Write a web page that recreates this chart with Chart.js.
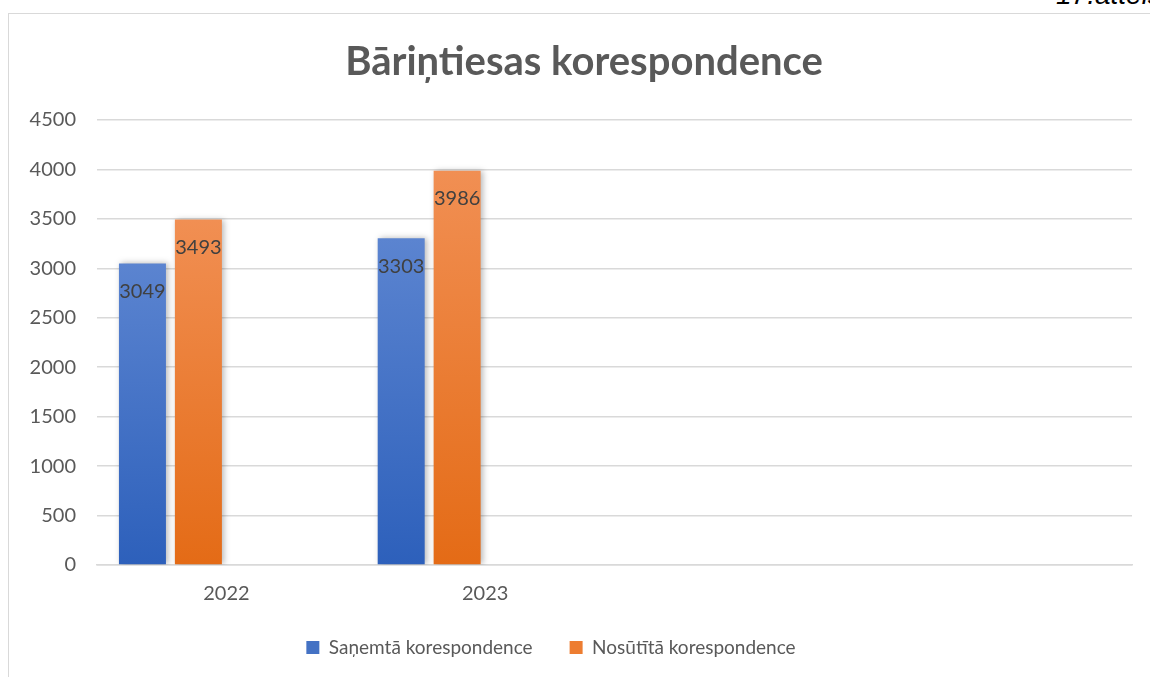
<!DOCTYPE html>
<html>
<head>
<meta charset="utf-8">
<title>Bāriņtiesas korespondence</title>
<script src="https://cdn.jsdelivr.net/npm/chart.js@4.4.1/dist/chart.umd.min.js"></script>
<style>
    html, body { margin: 0; padding: 0; background: #fff; overflow: hidden; }
    #frame { position: absolute; left: 8px; top: 13px; width: 1200px; height: 720px; border: 1.5px solid #d9d9d9; box-sizing: border-box; }
    #figNo { position: absolute; left: 1056px; top: -19px; font: italic 28px 'Liberation Sans', sans-serif; line-height: 1; color: #000; white-space: nowrap; }
    #wrap { position: absolute; left: 0; top: 0; width: 1150px; height: 677px; }
</style>
</head>
<body>
<div id="frame"></div>
<div id="figNo">17.attēls</div>
<div id="wrap"><canvas id="corrChart"></canvas></div>
<script>
const years = ['2022', '2023', '', ''];
const received = [3049, 3303, null, null];
const sent = [3493, 3986, null, null];
const emptySeries = [null, null, null, null];
const yTicks = [0, 500, 1000, 1500, 2000, 2500, 3000, 3500, 4000, 4500];

const seriesNames = ['Saņemtā korespondence', 'Nosūtītā korespondence'];
const topColors = ['#5b84d0', '#f18f53'];
const bottomColors = ['#2d60bb', '#e46b16'];
const legendColors = ['#4472c4', '#ed7d31'];

const textGray = '#595959';
const fontFamily = "Lato, 'Noto Sans', sans-serif";

function barGradient(idx) {
    return (ctx) => {
        const chart = ctx.chart;
        const area = chart.chartArea;
        if (!area || ctx.raw == null) return topColors[idx];
        const top = chart.scales.y.getPixelForValue(ctx.raw);
        const g = chart.ctx.createLinearGradient(0, top, 0, area.bottom);
        g.addColorStop(0, topColors[idx]);
        g.addColorStop(1, bottomColors[idx]);
        return g;
    };
}

const barShadow = {
    id: 'barShadow',
    beforeDatasetsDraw(chart) {
        const c = chart.ctx;
        c.save();
        c.shadowColor = 'rgba(0,0,0,0.28)';
        c.shadowBlur = 6;
        c.shadowOffsetX = 2;
    },
    afterDatasetsDraw(chart) {
        chart.ctx.restore();
    }
};

const valueLabels = {
    id: 'valueLabels',
    afterDatasetsDraw(chart) {
        const c = chart.ctx;
        c.save();
        c.font = `20px ${fontFamily}`;
        c.fillStyle = '#404040';
        c.textAlign = 'center';
        c.textBaseline = 'middle';
        chart.data.datasets.forEach((ds, i) => {
            chart.getDatasetMeta(i).data.forEach((bar, j) => {
                const v = ds.data[j];
                if (v == null) return;
                c.fillText(String(v), bar.x, bar.y + 28);
            });
        });
        c.restore();
    }
};

// Excel places the title a bit right and the legend a bit left of the plot centre
const blockShift = {
    id: 'blockShift',
    afterLayout(chart) {
        chart.titleBlock.left += 8;
        chart.titleBlock.right += 8;
        chart.legend.left -= 25;
        chart.legend.right -= 25;
    }
};

function drawChart() {
    const canvas = document.getElementById('corrChart');
    const tickFont = { family: fontFamily, size: 20 };

    new Chart(canvas, {
        type: 'bar',
        data: {
            labels: years,
            datasets: [
                { label: seriesNames[0], data: received, backgroundColor: barGradient(0) },
                { label: seriesNames[1], data: sent, backgroundColor: barGradient(1) },
                { label: '', data: emptySeries },
                { label: '', data: emptySeries }
            ]
        },
        options: {
            responsive: true,
            maintainAspectRatio: false,
            animation: false,
            categoryPercentage: 0.865,
            barPercentage: 0.84,
            layout: { padding: { left: 20, right: 18, top: 0, bottom: 10 } },
            plugins: {
                title: {
                    display: true,
                    text: 'Bāriņtiesas korespondence',
                    color: textGray,
                    font: { family: fontFamily, size: 40, weight: 'bold' },
                    padding: { top: 38, bottom: 34 }
                },
                legend: {
                    position: 'bottom',
                    labels: {
                        color: textGray,
                        font: { family: fontFamily, size: 19 },
                        boxWidth: 13,
                        boxHeight: 13,
                        padding: 37,
                        filter: (item) => item.text !== '',
                        generateLabels: (chart) => Chart.defaults.plugins.legend.labels.generateLabels(chart).map((item) => {
                            item.fillStyle = legendColors[item.datasetIndex] || item.fillStyle;
                            item.strokeStyle = 'transparent';
                            item.lineWidth = 0;
                            return item;
                        })
                    }
                },
                tooltip: { enabled: false }
            },
            scales: {
                x: {
                    grid: { display: false },
                    border: { color: '#d9d9d9', width: 1.5 },
                    ticks: { color: textGray, font: tickFont, padding: 9 },
                    afterFit: (scale) => { scale.height = 36; }
                },
                y: {
                    min: 0,
                    max: 4500,
                    afterBuildTicks: (scale) => { scale.ticks = yTicks.map((v) => ({ value: v })); },
                    grid: { color: '#d9d9d9', lineWidth: 1.5, drawTicks: false },
                    border: { display: false },
                    ticks: { color: textGray, font: tickFont, padding: 21, callback: (v) => String(v) },
                    afterFit: (scale) => { scale.width = 77; }
                }
            }
        },
        plugins: [barShadow, valueLabels, blockShift]
    });
}

drawChart();
</script>
</body>
</html>
